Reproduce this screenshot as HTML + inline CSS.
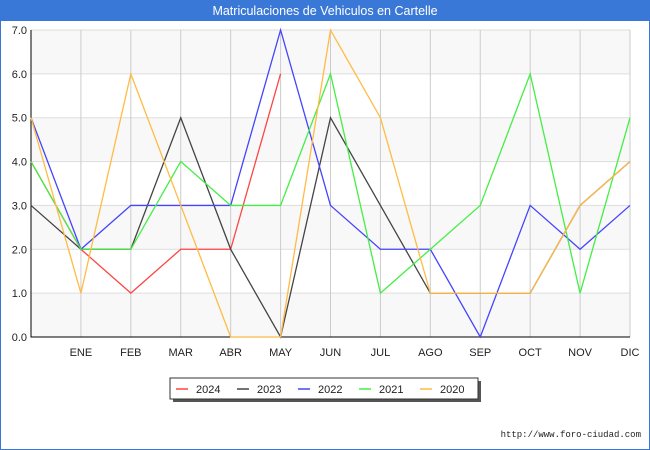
<!DOCTYPE html>
<html><head><meta charset="utf-8"><style>
body{margin:0;background:#fff;font-family:"Liberation Sans",sans-serif}
svg{display:block}
</style></head><body>
<svg width="650" height="450" xmlns="http://www.w3.org/2000/svg">
<rect x="0.5" y="0.5" width="649" height="449" fill="#fff" stroke="#3a78d8" stroke-width="1"/>
<rect x="0" y="0" width="650" height="21" fill="#3a78d8"/>
<text x="325" y="15" text-anchor="middle" font-size="12.5" fill="#fff">Matriculaciones de Vehiculos en Cartelle</text>
<g id="plot"></g>
<text x="641" y="437" font-family="Liberation Mono, monospace" font-size="9" fill="#222" text-anchor="end">http://www.foro-ciudad.com</text>
<g>
<rect x="173" y="381" width="308" height="21" fill="#555"/>
<rect x="170" y="378" width="308" height="21" fill="#fff" stroke="#333"/>
<g id="leg"></g>
</g>
</svg>
<script>
const cats=["","ENE","FEB","MAR","ABR","MAY","JUN","JUL","AGO","SEP","OCT","NOV","DIC"];
const yTicks=[0,1,2,3,4,5,6,7];
const names=["2024","2023","2022","2021","2020"];
const colors=["#ff4444","#444444","#4444ff","#44ee44","#ffbb44"];
const s2024=[4,2,1,2,2,6,null,null,null,null,null,null,null];
const s2023=[3,2,2,5,2,0,5,3,1,1,1,3,4];
const s2022=[5,2,3,3,3,7,3,2,2,0,3,2,3];
const s2021=[4,2,2,4,3,3,6,1,2,3,6,1,5];
const s2020=[5,1,6,3,0,0,7,5,1,1,1,3,4];
const series=[s2024,s2023,s2022,s2021,s2020];
const NS="http://www.w3.org/2000/svg";
const X0=31,X1=630,Y0=337,Y1=30;
const xs=i=>X0+(X1-X0)*i/(cats.length-1);
const ys=v=>Y0-(Y0-Y1)*v/7;
const g=document.getElementById('plot');
function mk(t,a,p){const e=document.createElementNS(NS,t);for(const k in a)e.setAttribute(k,a[k]);(p||g).appendChild(e);return e;}
for(let v=0;v<7;v++){if(v%2==0){const r=mk('rect',{x:X0,y:ys(v+1),width:X1-X0,height:ys(v)-ys(v+1),fill:'#f8f8f8'});

}}
yTicks.forEach(v=>{const l=mk('line',{x1:X0,x2:X1,y1:ys(v),y2:ys(v),stroke:'#dddddd'});


const t=mk('text',{x:X0-4,y:ys(v)+4,'text-anchor':'end','font-size':'11',fill:'#222'});t.textContent=v.toFixed(1);

});
cats.forEach((c,i)=>{const l=mk('line',{x1:xs(i),x2:xs(i),y1:Y1,y2:Y0,stroke:'#cccccc'});


if(c){const t=mk('text',{x:xs(i),y:Y0+19,'text-anchor':'middle','font-size':'11',fill:'#222'});t.textContent=c;

}});
const ax=mk('path',{d:`M${X0} ${Y1}V${Y0}H${X1}`,fill:'none',stroke:'#000'});


series.forEach((s,k)=>{let d='';let pen=false;s.forEach((v,i)=>{if(v==null){pen=false;return;}d+=(pen?'L':'M')+xs(i)+' '+ys(v);pen=true;});
const p=mk('path',{d:d,fill:'none',stroke:colors[k],'stroke-width':'1.3'});

});
const lg=document.getElementById('leg');
names.forEach((n,k)=>{const x=176+k*61;
const l=mk('line',{x1:x,x2:x+12,y1:389,y2:389,stroke:colors[k],'stroke-width':'1.5'},lg);


const t=mk('text',{x:x+20,y:393,'font-size':'11',fill:'#222'},lg);t.textContent=n;

});
</script>
</body></html>
